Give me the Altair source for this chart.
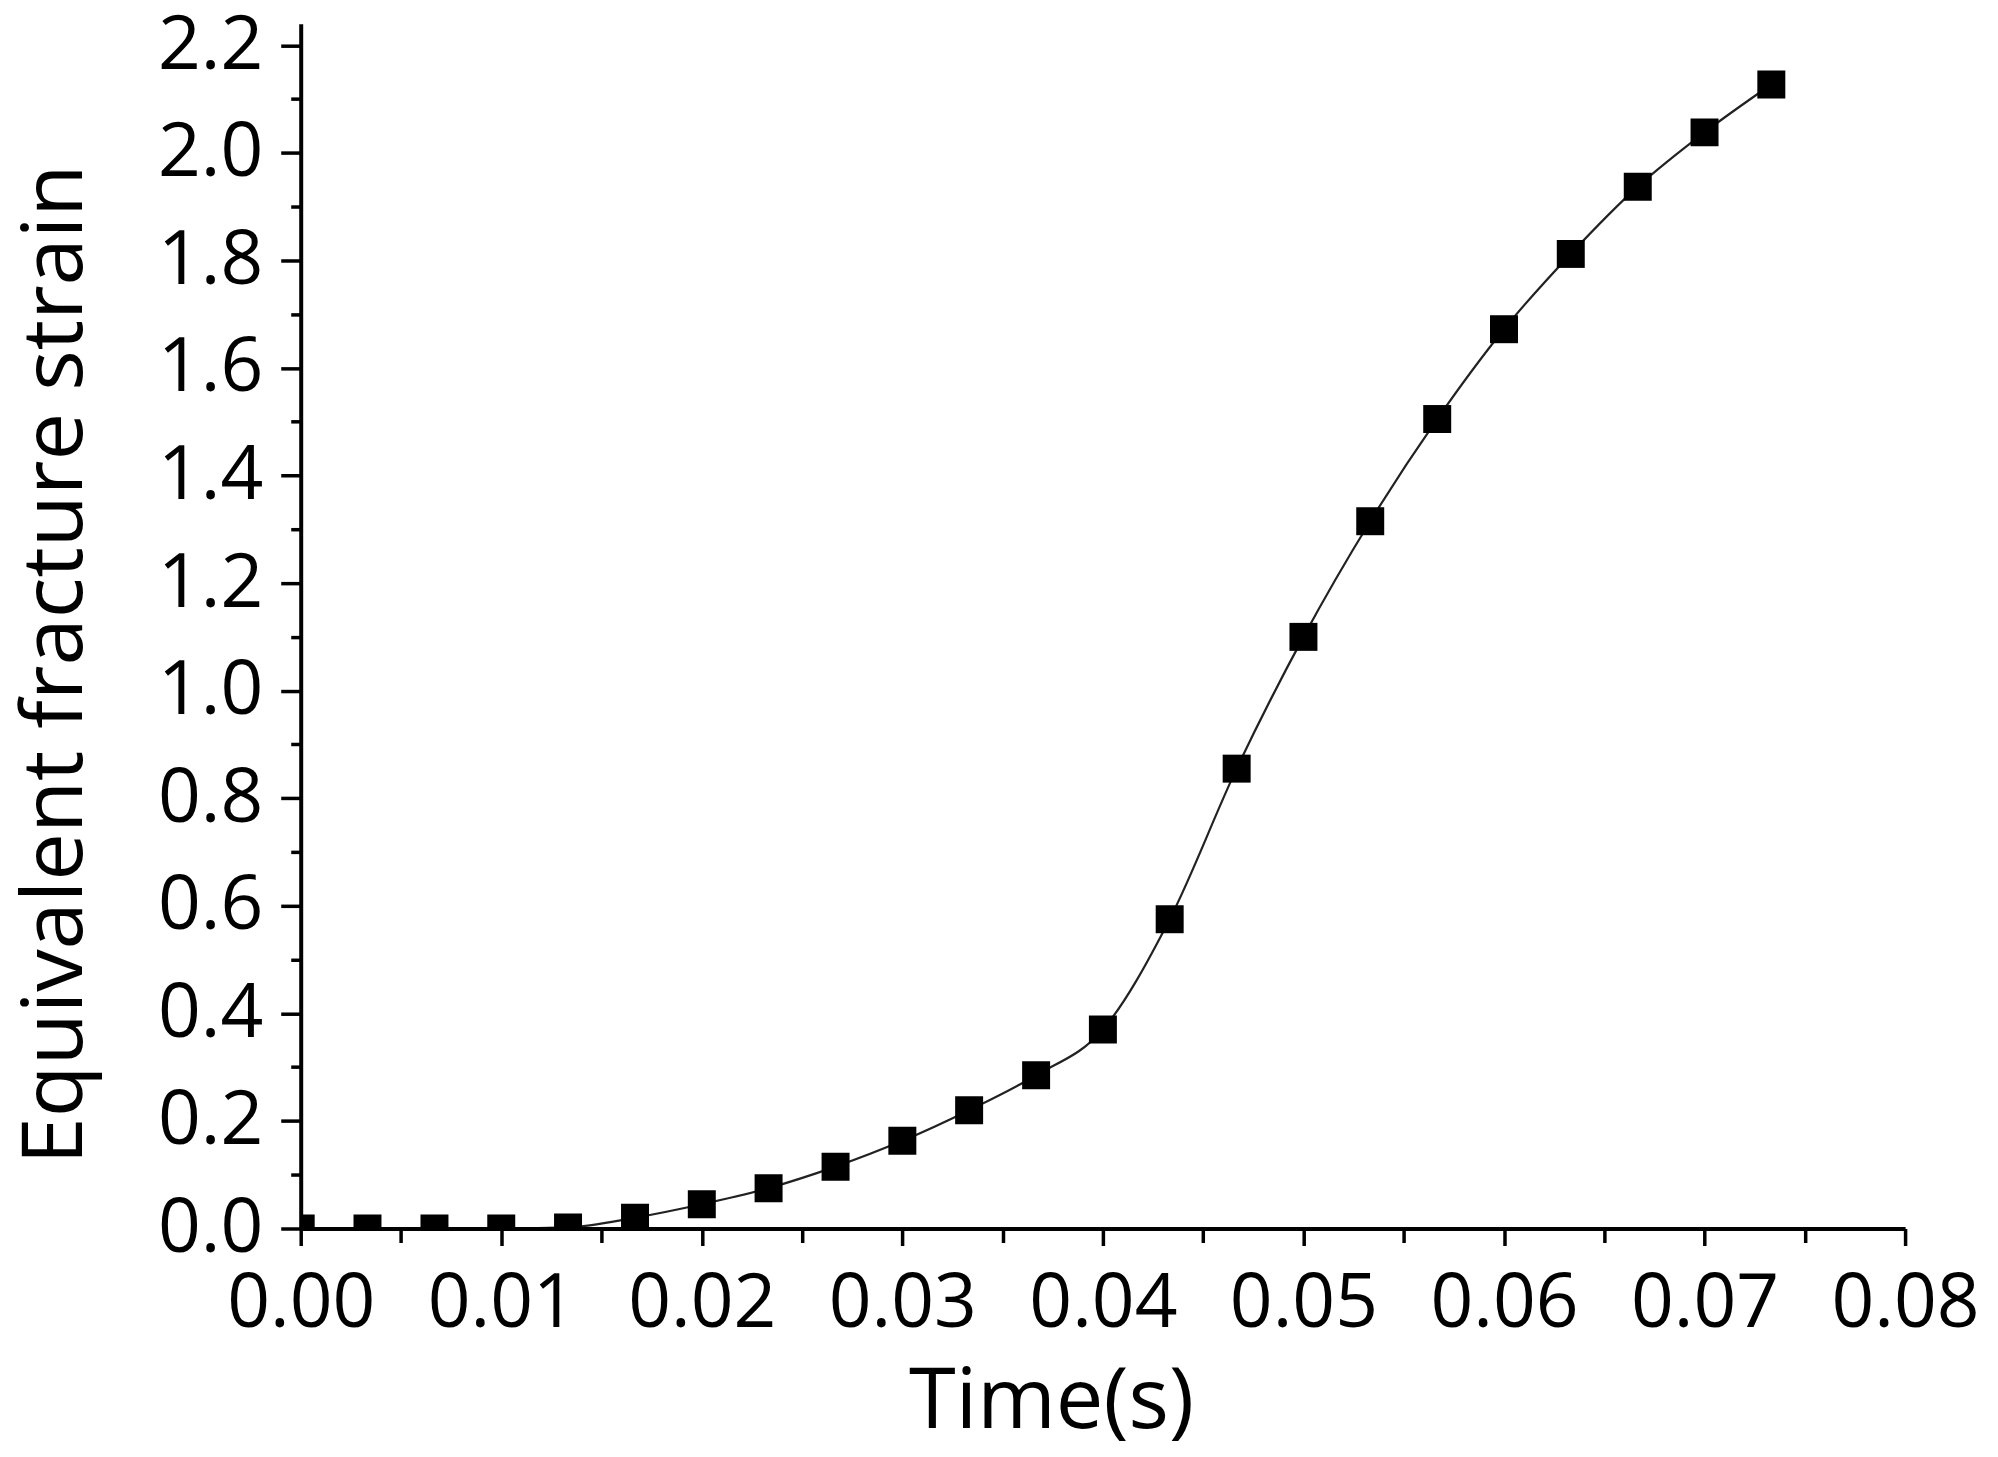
import altair as alt
import pandas as pd

# ---- data ----
time_s = [0.0, 0.00333, 0.00667, 0.01, 0.01333, 0.01667, 0.02, 0.02333,
          0.02667, 0.03, 0.03333, 0.03667, 0.04, 0.04333, 0.04667, 0.05,
          0.05333, 0.05667, 0.06, 0.06333, 0.06667, 0.07, 0.07333]
strain = [0.0, 0.0, 0.0, 0.0, 0.002, 0.02, 0.045, 0.075,
          0.115, 0.163, 0.22, 0.285, 0.37, 0.575, 0.855, 1.10,
          1.315, 1.505, 1.672, 1.812, 1.937, 2.038, 2.127]

x_major = [0.0, 0.01, 0.02, 0.03, 0.04, 0.05, 0.06, 0.07, 0.08]
x_minor = [0.005, 0.015, 0.025, 0.035, 0.045, 0.055, 0.065, 0.075]
y_major = [0.0, 0.2, 0.4, 0.6, 0.8, 1.0, 1.2, 1.4, 1.6, 1.8, 2.0, 2.2]
y_minor = [0.1, 0.3, 0.5, 0.7, 0.9, 1.1, 1.3, 1.5, 1.7, 1.9, 2.1]

x_title = "Time(s)"
y_title = "Equivalent fracture strain"

df = pd.DataFrame({"t": time_s, "s": strain})

FONT = "Open Sans"
LABEL_SIZE = 75
TITLE_SIZE = 85

x_scale = alt.Scale(domain=[0, 0.08], nice=False, zero=False)
y_scale = alt.Scale(domain=[0, 2.24], nice=False, zero=False)

x_axis_main = alt.Axis(
    values=x_major, format=".2f", orient="bottom", grid=False,
    domainColor="black", domainWidth=4, tickColor="black", tickWidth=3.5,
    tickSize=17, labelFont=FONT, labelFontSize=LABEL_SIZE, labelColor="black",
    labelPadding=22, labelFlush=False, labelOverlap=False,
    title=x_title, titleFont=FONT, titleFontSize=TITLE_SIZE,
    titleFontWeight="normal", titleColor="black",
    titleX=751, titleY=199, titleAlign="center", titleBaseline="alphabetic",
    zindex=1,
)
y_axis_main = alt.Axis(
    values=y_major, format=".1f", orient="left", grid=False,
    domainColor="black", domainWidth=4, tickColor="black", tickWidth=3.5,
    tickSize=20, labelFont=FONT, labelFontSize=LABEL_SIZE, labelColor="black",
    labelPadding=18, labelFlush=False, labelOverlap=False,
    title=y_title, titleFont=FONT, titleFontSize=TITLE_SIZE,
    titleFontWeight="normal", titleColor="black",
    titleX=-219, titleY=641, titleAlign="center", titleBaseline="alphabetic",
    titleAngle=270, zindex=1,
)
x_axis_minor = alt.Axis(
    values=x_minor, orient="bottom", grid=False, domain=False, labels=False,
    tickColor="black", tickWidth=3.5, tickSize=14, zindex=1,
)
y_axis_minor = alt.Axis(
    values=y_minor, orient="left", grid=False, domain=False, labels=False,
    tickColor="black", tickWidth=3.5, tickSize=10, zindex=1,
)

line = alt.Chart(df).mark_line(
    color="#222222", strokeWidth=2.2, interpolate="monotone", clip=True
).encode(
    x=alt.X("t:Q", scale=x_scale, axis=x_axis_main),
    y=alt.Y("s:Q", scale=y_scale, axis=y_axis_main),
)

points = alt.Chart(df).mark_point(
    shape="square", filled=True, color="black", size=784, opacity=1, clip=True
).encode(
    x=alt.X("t:Q", scale=x_scale, axis=x_axis_minor, title=None),
    y=alt.Y("s:Q", scale=y_scale, axis=y_axis_minor, title=None),
)

chart = alt.layer(line, points).resolve_axis(
    x="independent", y="independent"
).properties(
    width=1606, height=1206,
    autosize=alt.AutoSizeParams(type="none"),
    padding={"left": 293, "top": 15, "right": 85, "bottom": 228},
    background="white",
).configure_view(stroke=None)

chart.save("out.html", embed_options={"renderer": "svg", "actions": False})
